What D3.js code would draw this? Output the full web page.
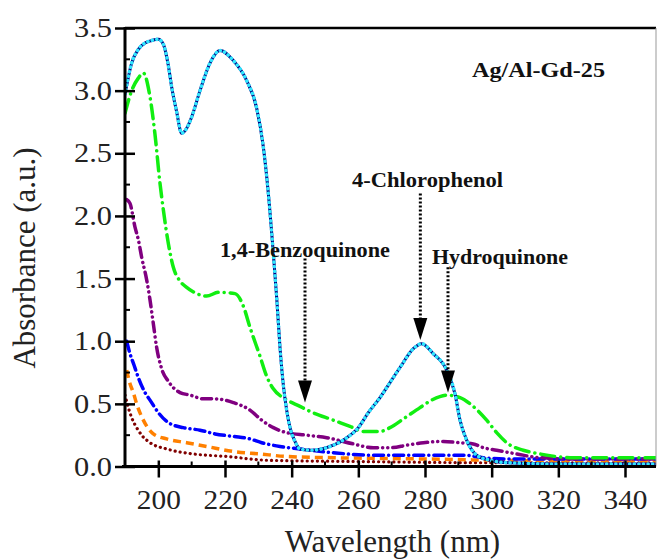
<!DOCTYPE html>
<html><head><meta charset="utf-8">
<script src="https://cdn.jsdelivr.net/npm/d3@7"></script>
<style>
html,body{margin:0;padding:0;background:#fff;}
svg{display:block;font-family:"Liberation Serif","Times New Roman",serif;}
</style></head>
<body>
<svg id="c" width="657" height="559"></svg>
<script>
// ---- data (wavelength nm, absorbance a.u.) ----
const mainWl  = [190,192,194,196,198,200,201.5,203,204,205.5,207,208.5,210,212.5,215.5,218.5,222.5,226.5,229.5,231.5,233,234.5,235.5,236.5,237.5,238.5,239.5,241,242.5,246,249,252.5,256,260,263,266.5,269.5,272.5,276.5,279,282.5,286.5,289,290.5,292.5,295.5,299.5,305,320,349.5];
const mainAbs = [2.97,3.22,3.33,3.38,3.40,3.41,3.37,3.20,3.03,2.83,2.66,2.70,2.79,3.00,3.22,3.32,3.24,3.08,2.86,2.55,2.18,1.70,1.35,0.95,0.65,0.45,0.31,0.20,0.14,0.13,0.14,0.17,0.22,0.31,0.43,0.55,0.67,0.79,0.94,0.98,0.90,0.77,0.58,0.37,0.21,0.09,0.05,0.03,0.02,0.02];

const greenWl  = [190,192,194,195.5,197.5,199,200.5,201.5,203,204.5,206.5,208.5,211.5,214.5,218,223,225.5,227.5,230.5,232.5,234.5,238,242.5,245.5,252.5,257.5,261.5,266.5,269.5,273.5,278.5,282,286.5,290.5,294,298.5,301.5,305,309.5,314.5,324.5,335,349.5];
const greenAbs = [2.82,3.00,3.10,3.14,2.95,2.65,2.26,2.05,1.78,1.59,1.48,1.43,1.38,1.36,1.39,1.38,1.28,1.11,0.88,0.72,0.62,0.54,0.48,0.44,0.37,0.32,0.28,0.28,0.31,0.38,0.47,0.53,0.57,0.55,0.49,0.37,0.27,0.18,0.13,0.10,0.07,0.07,0.07];

const purpleWl  = [190.5,191.5,193,194,195,196.5,197.5,198.5,199.5,201,203,206.5,209.5,213.5,217,222.5,227.5,231,234.5,238.5,244.5,250.5,258.5,264.5,269.5,274.5,279.5,285.5,290.5,294.5,297.5,301.5,307.5,314.5,325,349.5];
const purpleAbs = [2.13,2.10,1.91,1.81,1.67,1.49,1.33,1.14,0.95,0.78,0.68,0.59,0.57,0.54,0.54,0.51,0.45,0.37,0.31,0.27,0.25,0.23,0.18,0.15,0.15,0.17,0.19,0.20,0.19,0.18,0.15,0.13,0.10,0.07,0.06,0.06];

const blueWl  = [190.5,191.5,192.7,194,196,197.5,200,203,207.5,212.5,217,222.5,227.5,231,236.5,242.5,252.5,264.5,280,292,297.5,304.5,320,349.5];
const blueAbs = [1.00,0.90,0.81,0.71,0.59,0.53,0.43,0.35,0.31,0.29,0.26,0.24,0.22,0.19,0.16,0.14,0.11,0.09,0.09,0.09,0.07,0.06,0.06,0.06];

const orangeWl  = [190.5,191.5,192.5,193.5,195.5,198.5,202.5,208.5,214.5,222.5,230.5,238.5,252.5,280,300,349.5];
const orangeAbs = [0.77,0.66,0.59,0.50,0.37,0.26,0.22,0.19,0.16,0.12,0.10,0.08,0.07,0.06,0.05,0.04];

const redWl  = [190,191,192,193.5,195,197.5,202.5,210.5,220.5,232.5,260,300,349.5];
const redAbs = [0.57,0.47,0.39,0.31,0.25,0.19,0.14,0.10,0.08,0.05,0.04,0.03,0.03];

const xTickValues = [200,220,240,260,280,300,320,340];
const xMinorValues = [210,230,250,270,290,310,330];
const yTickValues = [0,0.5,1.0,1.5,2.0,2.5,3.0,3.5];
const yMinorValues = [0.25,0.75,1.25,1.75,2.25,2.75,3.25];

const xTitle = "Wavelength (nm)";
const yTitle = "Absorbance (a.u.)";

// annotation labels: text, wavelength, absorbance, width
const labelTexts = ["Ag/Al-Gd-25","4-Chlorophenol","1,4-Benzoquinone","Hydroquinone"];
const labelWl    = [294.1, 258.1, 218.5, 282.1];
const labelAbs   = [3.11, 2.23, 1.67, 1.62];
const labelLen   = [133, 151, 170, 136];

// arrows: wavelength, start absorbance, tip absorbance
const arrowWl    = [244.0, 278.6, 286.9];
const arrowFrom  = [1.66, 2.18, 1.59];
const arrowTo    = [0.51, 1.01, 0.59];

// ---- drawing ----
const svg = d3.select("#c");
const x = d3.scaleLinear().domain([190, 349.3]).range([125, 656]);
const y = d3.scaleLinear().domain([0, 3.5]).range([466.5, 28]);

svg.append("defs").append("clipPath").attr("id","clip")
  .append("rect").attr("x",125).attr("y",20).attr("width",531).attr("height",447);

const seriesDefs = [
  {wl: redWl, ab: redAbs, color:"#800000", dash:"0.1,5", w:3.2, cap:"round"},
  {wl: orangeWl, ab: orangeAbs, color:"#ff8000", dash:"8,5", w:3.5, cap:"butt"},
  {wl: blueWl, ab: blueAbs, color:"#0000ff", dash:"10,5,0.1,5", w:3.5, cap:"round"},
  {wl: purpleWl, ab: purpleAbs, color:"#800080", dash:"10,5,0.1,5,0.1,5", w:3.5, cap:"round"},
  {wl: greenWl, ab: greenAbs, color:"#11ee11", dash:"14,6,0.1,6", w:3.5, cap:"round"},
  {wl: mainWl, ab: mainAbs, color:"#000080", dash:null, w:3, cap:"butt"},
  {wl: mainWl, ab: mainAbs, color:"#30e6ff", dash:"0.1,4.5", w:3.6, cap:"round"}
];

const line = d3.line().x(d=>x(d[0])).y(d=>y(d[1])).curve(d3.curveMonotoneX);
const plot = svg.append("g").attr("clip-path","url(#clip)");
seriesDefs.forEach(s=>{
  const pts = s.wl.map((w,i)=>[w,s.ab[i]]);
  const p = plot.append("path").attr("d", line(pts)).attr("fill","none")
    .attr("stroke", s.color).attr("stroke-width", s.w)
    .attr("stroke-linecap", s.cap).attr("stroke-linejoin","round");
  if (s.dash) p.attr("stroke-dasharray", s.dash);
});

// frame
svg.append("line").attr("x1",x(190)).attr("x2",656).attr("y1",y(3.5)).attr("y2",y(3.5))
  .attr("stroke","#000").attr("stroke-width",2.5);
svg.append("line").attr("x1",656).attr("x2",656).attr("y1",y(3.5)).attr("y2",y(0))
  .attr("stroke","#999").attr("stroke-width",1);

// x axis
const gx = svg.append("g").attr("transform",`translate(0,${y(0)})`);
gx.call(d3.axisBottom(x).tickValues(xTickValues).tickSize(11).tickSizeInner(11).tickPadding(6).tickFormat(d3.format("d")));
gx.select(".domain").remove();
gx.selectAll(".tick line").attr("y1",-6).attr("stroke","#000").attr("stroke-width",2.5);
gx.selectAll(".tick text").attr("font-size",27).attr("fill","#222").attr("dy","0.95em")
  .attr("font-family","Liberation Serif, serif")
  .attr("textLength",44).attr("lengthAdjust","spacingAndGlyphs");
gx.append("line").attr("x1",122).attr("x2",656).attr("y1",0).attr("y2",0)
  .attr("stroke","#000").attr("stroke-width",3);
gx.selectAll(".minor").data(xMinorValues).enter().append("line").attr("class","minor")
  .attr("x1",d=>x(d)).attr("x2",d=>x(d)).attr("y1",-5).attr("y2",0)
  .attr("stroke","#000").attr("stroke-width",2);

// y axis
const gy = svg.append("g").attr("transform",`translate(${x(190)},0)`);
gy.call(d3.axisLeft(y).tickValues(yTickValues).tickSize(10).tickPadding(4).tickFormat(d3.format(".1f")));
gy.select(".domain").remove();
gy.selectAll(".tick line").attr("x2",10).attr("x1",-10).attr("stroke","#000").attr("stroke-width",2.5);
gy.selectAll(".tick text").attr("font-size",27).attr("fill","#222").attr("x",-13)
  .attr("font-family","Liberation Serif, serif")
  .attr("textLength",38).attr("lengthAdjust","spacingAndGlyphs");
gy.append("line").attr("x1",0).attr("x2",0).attr("y1",y(3.5)-1).attr("y2",y(0)+1.5)
  .attr("stroke","#000").attr("stroke-width",3);
gy.selectAll(".minor").data(yMinorValues).enter().append("line").attr("class","minor")
  .attr("x1",0).attr("x2",5).attr("y1",d=>y(d)).attr("y2",d=>y(d))
  .attr("stroke","#000").attr("stroke-width",2);

// titles
svg.append("text").text(xTitle).attr("x",392.5).attr("y",552).attr("text-anchor","middle")
  .attr("font-size",31).attr("fill","#222");
svg.append("text").text(yTitle).attr("transform","translate(35,258) rotate(-90)")
  .attr("text-anchor","middle").attr("font-size",31).attr("fill","#222");

// annotation labels
labelTexts.forEach((t,i)=>{
  svg.append("text").text(t).attr("x",x(labelWl[i])).attr("y",y(labelAbs[i]))
    .attr("font-size",20).attr("font-weight","bold").attr("fill","#111")
    .attr("textLength",labelLen[i]).attr("lengthAdjust","spacingAndGlyphs");
});

// arrows
arrowWl.forEach((w,i)=>{
  const ax = x(w), y0 = y(arrowFrom[i]), yt = y(arrowTo[i]);
  svg.append("line").attr("x1",ax).attr("x2",ax).attr("y1",y0).attr("y2",yt-20)
    .attr("stroke","#000").attr("stroke-width",3).attr("stroke-dasharray","2,2");
  svg.append("path").attr("d",`M${ax-7},${yt-22}L${ax+7},${yt-22}L${ax},${yt}Z`).attr("fill","#000");
});
</script>
</body></html>
